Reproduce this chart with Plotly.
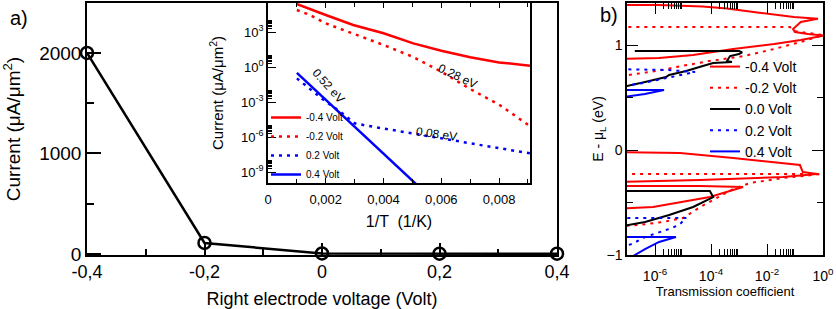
import plotly.graph_objects as go

FONT = "Liberation Sans, Arial, sans-serif"

# ---------- panel a: main I-V ----------
volt = [-0.4, -0.2, 0.0, 0.2, 0.4]
current = [2000, 110, 5, 3, 3]

# ---------- panel a inset: Arrhenius ----------
invT_m04 = [0.001, 0.00145, 0.002, 0.00295, 0.004, 0.00503, 0.006, 0.007, 0.008, 0.00907]
I_m04 = [2.5e5, 8.9e4, 2.9e4, 4.0e3, 7.8e2, 1.07e2, 25, 6.8, 2.5, 1.3]
invT_m02 = [0.001, 0.00145, 0.002, 0.00295, 0.004, 0.005, 0.006, 0.007, 0.008, 0.00907]
I_m02 = [7.8e4, 2.9e4, 5.5e3, 7.8e2, 78, 7.8, 0.4, 1.3e-2, 6e-4, 8.7e-6]
invT_p02 = [0.001, 0.0015, 0.002, 0.0025, 0.003, 0.0035, 0.004, 0.005, 0.006, 0.007, 0.008, 0.00907]
I_p02 = [0.107, 1.07e-2, 1.07e-3, 1.5e-4, 1.5e-5, 8.7e-6, 5.5e-6, 2.0e-6, 7.8e-7, 2.9e-7, 1.07e-7, 4.0e-8]
invT_p04 = [0.001, 0.002, 0.003, 0.004, 0.005, 0.0052]
I_p04 = [0.32, 1.6e-3, 7.9e-6, 4.0e-8, 2.0e-10, 6.3e-11]

inset_labels = ["0.52 eV", "0.28 eV", "0.08 eV"]

# ---------- panel b: transmission ----------
T_m04 = [3e-8, 1.3e-6, 5.1e-5, 3.7e-4, 6.2e-3, 0.091, 0.66, 0.16, 0.085, 0.1, 0.29, 1.1, 0.16, 0.018,
         6.2e-4, 2.3e-5, 1.4e-6, 3e-8,
         3e-8, 7.8e-6, 6.2e-4, 0.15, 0.19, 0.62, 0.037, 4.1e-5, 3e-8,
         3e-8, 4.1e-5, 1.4e-3, 9.1e-5, 1e-5, 8.5e-7, 3e-8]
E_m04 = [1.381, 1.381, 1.367, 1.348, 1.305, 1.267, 1.251, 1.219, 1.152, 1.124, 1.105, 1.09, 1.048, 1.01,
         0.962, 0.905, 0.876, 0.867,
         -0.019, -0.029, -0.076, -0.143, -0.21, -0.229, -0.257, -0.286, -0.305,
         -0.343, -0.343, -0.352, -0.448, -0.495, -0.543, -0.562]
T_m02 = [3e-8, 0.066, 0.091, 0.25, 1.0, 0.16, 0.018, 1.5e-3, 9.1e-5, 5.6e-6, 1.8e-6, 3e-8,
         3e-8, 0.9, 0.037, 2.5e-3, 6.2e-4, 1.6e-4, 4.1e-5, 1e-5, 1.9e-6, 2.7e-7, 3e-8]
E_m02 = [1.171, 1.171, 1.133, 1.114, 1.095, 1.029, 0.962, 0.895, 0.848, 0.79, 0.762, 0.69,
         -0.229, -0.229, -0.267, -0.314, -0.371, -0.457, -0.543, -0.648, -0.686, -0.714, -0.73]
T_00 = [1.9e-7, 1e-3, 1.3e-3, 1e-3, 4.8e-4, 3.7e-4, 5.6e-4, 1.2e-4, 5.1e-5, 1.3e-5, 3.2e-6, 2.5e-6, 4.4e-7, 3e-8,
        3e-8, 9.1e-5, 1.2e-4, 2.3e-5, 3.2e-6, 4.4e-7, 3e-8]
E_00 = [0.943, 0.943, 0.929, 0.914, 0.895, 0.848, 0.838, 0.829, 0.8, 0.752, 0.714, 0.695, 0.648, 0.58,
        -0.39, -0.39, -0.448, -0.543, -0.619, -0.686, -0.74]
T_p02 = [3e-8, 2.7e-6, 2.7e-5, 7.8e-6, 2.7e-6, 3.7e-7, 3e-8,
         3e-8, 1.3e-5, 7.2e-6, 3.2e-6, 1.4e-6, 4.4e-7, 1.5e-7, 3e-8]
E_p02 = [0.771, 0.762, 0.743, 0.714, 0.686, 0.638, 0.59,
         -0.648, -0.648, -0.714, -0.752, -0.781, -0.829, -0.895, -0.95]
T_p04 = [3e-8, 2.1e-6, 4.4e-7, 3e-8,
         3e-8, 5.6e-6, 1.4e-6, 4.4e-7, 1.9e-7, 1e-7]
E_p04 = [0.571, 0.571, 0.533, 0.49,
         -0.829, -0.829, -0.876, -0.943, -1.0, -1.05]

DOT = "3px,5px"
fig = go.Figure()

# main
fig.add_trace(go.Scatter(x=volt, y=current, mode="lines+markers", xaxis="x", yaxis="y",
                         line=dict(color="black", width=2.5),
                         marker=dict(symbol="circle-open", size=12, color="black", line=dict(width=2.5)),
                         cliponaxis=False, showlegend=False))

# inset
inset = [("-0.4 Volt", invT_m04, I_m04, "red", "solid"),
         ("-0.2 Volt", invT_m02, I_m02, "red", DOT),
         ("0.2 Volt", invT_p02, I_p02, "blue", DOT),
         ("0.4 Volt", invT_p04, I_p04, "blue", "solid")]
for name, xs, ys, c, d in inset:
    fig.add_trace(go.Scatter(x=xs, y=ys, mode="lines", name=name, xaxis="x2", yaxis="y2",
                             line=dict(color=c, width=2.5, dash=d), legend="legend"))

# panel b
tb = [("-0.4 Volt", T_m04, E_m04, "red", "solid"),
      ("-0.2 Volt", T_m02, E_m02, "red", DOT),
      ("0.0 Volt", T_00, E_00, "black", "solid"),
      ("0.2 Volt", T_p02, E_p02, "blue", DOT),
      ("0.4 Volt", T_p04, E_p04, "blue", "solid")]
for name, xs, ys, c, d in tb:
    fig.add_trace(go.Scatter(x=xs, y=ys, mode="lines", name=name, xaxis="x3", yaxis="y3",
                             line=dict(color=c, width=2, dash=d), legend="legend2"))

axcommon = dict(showline=True, linecolor="black", linewidth=1.5, ticks="inside", tickcolor="black",
                showgrid=False, zeroline=False, automargin=False,
                tickfont=dict(family=FONT, color="black"))

W, H = 836, 309
def px(a, b):
    return [a / W, b / W]
def py(top, bottom):
    return [(H - bottom) / H, (H - top) / H]
def pxp(a):
    return a / W
def pyp(b):
    return (H - b) / H

fig.update_layout(
    width=W, height=H, margin=dict(l=0, r=0, t=0, b=0, autoexpand=False),
    paper_bgcolor="white", plot_bgcolor="rgba(0,0,0,0)",
    font=dict(family=FONT, color="black"),
    xaxis=dict(axcommon, domain=px(87, 557), range=[-0.4, 0.4], anchor="y", mirror=True,
               tickvals=[-0.4, -0.2, 0, 0.2, 0.4], ticktext=["-0,4", "-0,2", "0", "0,2", "0,4"],
               ticklen=12, tickwidth=1.5, tickfont=dict(size=18, family=FONT),
               minor=dict(dtick=0.1, ticklen=6, ticks="inside", tickcolor="black", tickwidth=1.5),
               title=dict(text="Right electrode voltage (Volt)", font=dict(size=18, family=FONT), standoff=11)),
    yaxis=dict(axcommon, domain=py(3, 255), range=[-10, 2497], anchor="x", mirror=True,
               tickvals=[0, 1000, 2000], ticklen=14, tickwidth=1.5, tickfont=dict(size=19, family=FONT),
               minor=dict(dtick=500, ticklen=7, ticks="inside", tickcolor="black", tickwidth=1.5),
               title=dict(text="Current (μA/μm<sup>2</sup>)", font=dict(size=19, family=FONT), standoff=14)),
    xaxis2=dict(axcommon, domain=px(268, 530), range=[0, 0.00907], anchor="y2", mirror="ticks",
                tickvals=[0, 0.002, 0.004, 0.006, 0.008], ticktext=["0", "0,002", "0,004", "0,006", "0,008"],
                ticklen=5, tickwidth=1.2, tickfont=dict(size=13, family=FONT), ticklabelstandoff=4,
                minor=dict(dtick=0.001, ticklen=4, ticks="inside", tickcolor="black", tickwidth=1.2),
                title=dict(text="1/T  (1/K)", font=dict(size=16, family=FONT), standoff=9)),
    yaxis2=dict(axcommon, domain=py(3, 183), type="log", range=[-9.94, 5.49], anchor="x2", mirror=True,
                tickvals=[1e-9, 1e-6, 1e-3, 1, 1e3],
                ticktext=["10<sup>-9</sup>", "10<sup>-6</sup>", "10<sup>-3</sup>", "10<sup>0</sup>", "10<sup>3</sup>"],
                ticklen=8, tickwidth=1.2, tickfont=dict(size=13, family=FONT),
                minor=dict(tickmode="array", ticklen=4, ticks="inside", tickcolor="black", tickwidth=1.2,
                           tickvals=[m * 10.0 ** e for e in (-9, -6, -3, 0, 3) for m in range(2, 10)]),
                title=dict(text="Current (μA/μm<sup>2</sup>)", font=dict(size=15, family=FONT), standoff=14)),
    xaxis3=dict(axcommon, domain=px(627, 823), type="log", range=[-7, 0], anchor="y3", mirror="ticks",
                tickvals=[1e-6, 1e-4, 1e-2, 1],
                ticktext=["10<sup>-6</sup>", "10<sup>-4</sup>", "10<sup>-2</sup>", "10<sup>0</sup>"],
                ticklen=11, tickwidth=1.2, tickfont=dict(size=14, family=FONT), ticklabelstandoff=7,
                minor=dict(tickmode="array", ticklen=6, ticks="inside", tickcolor="black", tickwidth=1.2,
                           tickvals=[m * 10.0 ** e for e in (-6, -4, -2) for m in range(2, 10)]),
                title=dict(text="Transmission coefficient", font=dict(size=13, family=FONT), standoff=0)),
    yaxis3=dict(axcommon, domain=py(3, 255), range=[-1, 1.4], anchor="x3", mirror="ticks",
                tickvals=[-1, 0, 1], ticklen=11, tickwidth=1.2, tickfont=dict(size=14, family=FONT),
                minor=dict(dtick=0.5, ticklen=6, ticks="inside", tickcolor="black", tickwidth=1.2),
                title=dict(text="E - μ<sub>L</sub> (eV)", font=dict(size=14, family=FONT), standoff=0)),
    legend=dict(x=pxp(266), y=pyp(103), xanchor="left", yanchor="top", bgcolor="rgba(0,0,0,0)",
                font=dict(size=10, family=FONT), tracegroupgap=0, itemwidth=30),
    legend2=dict(x=pxp(705), y=pyp(51), xanchor="left", yanchor="top", bgcolor="rgba(0,0,0,0)",
                 font=dict(size=14, family=FONT), tracegroupgap=0, itemwidth=30),
    annotations=[
        dict(text="a)", x=pxp(8), y=pyp(18), xref="paper", yref="paper", showarrow=False,
             xanchor="left", yanchor="middle", font=dict(size=20, family=FONT)),
        dict(text="b)", x=pxp(598), y=pyp(15), xref="paper", yref="paper", showarrow=False,
             xanchor="left", yanchor="middle", font=dict(size=20, family=FONT)),
        dict(text=inset_labels[0], x=0.0021, y=-1.6, xref="x2", yref="y2", showarrow=False,
             textangle=48, font=dict(size=12, family=FONT)),
        dict(text=inset_labels[1], x=0.00655, y=-0.8, xref="x2", yref="y2", showarrow=False,
             textangle=25, font=dict(size=12, family=FONT)),
        dict(text=inset_labels[2], x=0.00582, y=-5.7, xref="x2", yref="y2", showarrow=False,
             textangle=8, font=dict(size=12, family=FONT)),
    ],
)

# remove the default 8px page margin so the figure fills the window exactly
fig.write_html("out.html", config={"displayModeBar": False},
               post_script="document.body.style.margin='0';")
